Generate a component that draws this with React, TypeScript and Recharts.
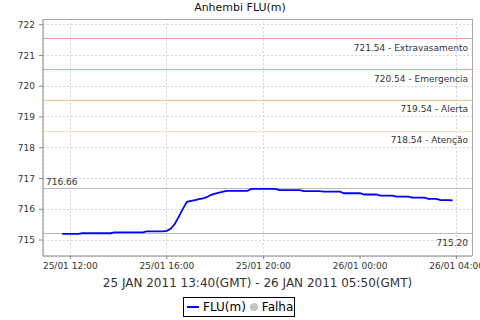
import { LineChart, Line, XAxis, YAxis, CartesianGrid, ReferenceLine } from "recharts";

const times = [
  "25/01 11:40", "25/01 11:50", "25/01 12:00", "25/01 12:10", "25/01 12:20", "25/01 12:30",
  "25/01 12:40", "25/01 12:50", "25/01 13:00", "25/01 13:10", "25/01 13:20", "25/01 13:30",
  "25/01 13:40", "25/01 13:50", "25/01 14:00", "25/01 14:10", "25/01 14:20", "25/01 14:30",
  "25/01 14:40", "25/01 14:50", "25/01 15:00", "25/01 15:10", "25/01 15:20", "25/01 15:30",
  "25/01 15:40", "25/01 15:50", "25/01 16:00", "25/01 16:10", "25/01 16:20", "25/01 16:30",
  "25/01 16:40", "25/01 16:50", "25/01 17:00", "25/01 17:10", "25/01 17:20", "25/01 17:30",
  "25/01 17:40", "25/01 17:50", "25/01 18:00", "25/01 18:10", "25/01 18:20", "25/01 18:30",
  "25/01 18:40", "25/01 18:50", "25/01 19:00", "25/01 19:10", "25/01 19:20", "25/01 19:30",
  "25/01 19:40", "25/01 19:50", "25/01 20:00", "25/01 20:10", "25/01 20:20", "25/01 20:30",
  "25/01 20:40", "25/01 20:50", "25/01 21:00", "25/01 21:10", "25/01 21:20", "25/01 21:30",
  "25/01 21:40", "25/01 21:50", "25/01 22:00", "25/01 22:10", "25/01 22:20", "25/01 22:30",
  "25/01 22:40", "25/01 22:50", "25/01 23:00", "25/01 23:10", "25/01 23:20", "25/01 23:30",
  "25/01 23:40", "25/01 23:50", "26/01 00:00", "26/01 00:10", "26/01 00:20", "26/01 00:30",
  "26/01 00:40", "26/01 00:50", "26/01 01:00", "26/01 01:10", "26/01 01:20", "26/01 01:30",
  "26/01 01:40", "26/01 01:50", "26/01 02:00", "26/01 02:10", "26/01 02:20", "26/01 02:30",
  "26/01 02:40", "26/01 02:50", "26/01 03:00", "26/01 03:10", "26/01 03:20", "26/01 03:30",
  "26/01 03:40", "26/01 03:50",
];

const flu = [
  715.2, 715.2, 715.2, 715.2, 715.2, 715.22,
  715.22, 715.22, 715.22, 715.22, 715.22, 715.22,
  715.22, 715.25, 715.25, 715.25, 715.25, 715.25,
  715.25, 715.25, 715.25, 715.28, 715.28, 715.28,
  715.28, 715.28, 715.3, 715.37, 715.53, 715.77,
  716.02, 716.24, 716.27, 716.3, 716.33, 716.35,
  716.4, 716.47, 716.51, 716.54, 716.57, 716.6,
  716.6, 716.6, 716.6, 716.6, 716.6, 716.66,
  716.66, 716.66, 716.66, 716.66, 716.66, 716.66,
  716.62, 716.62, 716.62, 716.62, 716.62, 716.62,
  716.59, 716.59, 716.59, 716.59, 716.59, 716.57,
  716.57, 716.57, 716.57, 716.57, 716.52, 716.52,
  716.52, 716.52, 716.52, 716.48, 716.48, 716.48,
  716.48, 716.44, 716.44, 716.44, 716.44, 716.41,
  716.41, 716.41, 716.41, 716.38, 716.38, 716.38,
  716.38, 716.34, 716.34, 716.34, 716.3, 716.3,
  716.3, 716.29,
];

// cotas de referencia
const markers = [
  { value: 721.54, name: "Extravasamento", color: "#f09c9c" },
  { value: 720.54, name: "Emergencia", color: "#ff88ff" },
  { value: 719.54, name: "Alerta", color: "#f5c592" },
  { value: 718.54, name: "Atenção", color: "#f8ea90" },
];
const maxLevel = 716.66;
const minLevel = 715.2;

const xTicks = [12, 16, 20, 24, 28];
const xTickLabels = ["25/01 12:00", "25/01 16:00", "25/01 20:00", "26/01 00:00", "26/01 04:00"];
const yTicks = [715, 716, 717, 718, 719, 720, 721, 722];
const xDomain = [10.87, 28.635];
const yDomain = [714.48, 722.186];

const toHours = (t: string) => {
  const [d, hm] = t.split(" ");
  const [h, m] = hm.split(":").map(Number);
  return (Number(d.slice(0, 2)) - 25) * 24 + h + m / 60;
};

const data = times.map((t, i) => ({ t: toHours(t), flu: flu[i] }));

const FONT = "DejaVu Sans";

const rightLabel = (text: string) => (props: any) => {
  const { x, y, width } = props.viewBox;
  return (
    <text x={x + width - 4} y={y + 12} textAnchor="end" fontSize={9} fill="#333" fontFamily={FONT}>
      {text}
    </text>
  );
};

const leftLabel = (text: string) => (props: any) => {
  const { x, y } = props.viewBox;
  return (
    <text x={x + 3} y={y - 4} fontSize={9} fill="#333" fontFamily={FONT}>
      {text}
    </text>
  );
};

export default function App() {
  return (
    <div style={{ position: "relative", width: 480, height: 320, background: "#fff", fontFamily: FONT }}>
      <style>{`body{margin:0}`}</style>
      <div style={{ position: "absolute", top: 1, left: 0, width: 480, textAlign: "center", fontSize: 11, lineHeight: "13px", color: "#111" }}>
        Anhembi FLU(m)
      </div>
      <LineChart width={480} height={320} data={data} margin={{ top: 19, right: 8, left: 0, bottom: 24 }}>
        <CartesianGrid stroke="#d6d6d6" strokeDasharray="2 2" shapeRendering="crispEdges" />
        <XAxis
          dataKey="t"
          type="number"
          domain={xDomain}
          allowDataOverflow
          ticks={xTicks}
          tickFormatter={(v: number) => xTickLabels[xTicks.indexOf(v)]}
          height={40}
          tickSize={3}
          tickMargin={4}
          stroke="#888"
          tick={{ fontSize: 9, fill: "#333", fontFamily: FONT }}
          label={{ value: "25 JAN 2011 13:40(GMT) - 26 JAN 2011 05:50(GMT)", position: "insideBottom", offset: 9, fontSize: 12, fill: "#333", fontFamily: FONT }}
        />
        <YAxis
          type="number"
          domain={yDomain}
          allowDataOverflow
          ticks={yTicks}
          width={43}
          tickSize={4}
          tickMargin={4}
          stroke="#888"
          tick={{ fontSize: 9, fill: "#333", fontFamily: FONT }}
        />
        <ReferenceLine y={yDomain[1]} stroke="#aaa" shapeRendering="crispEdges" />
        <ReferenceLine x={xDomain[1]} stroke="#aaa" shapeRendering="crispEdges" />
        {markers.map((m) => (
          <ReferenceLine
            key={m.name}
            y={m.value}
            stroke={m.color}
            strokeWidth={1}
            shapeRendering="crispEdges"
            label={rightLabel(`${m.value.toFixed(2)} - ${m.name}`)}
          />
        ))}
        <ReferenceLine y={maxLevel} stroke="#bbb" shapeRendering="crispEdges" label={leftLabel(maxLevel.toFixed(2))} />
        <ReferenceLine y={minLevel} stroke="#bbb" shapeRendering="crispEdges" label={rightLabel(minLevel.toFixed(2))} />
        <Line type="linear" dataKey="flu" stroke="#0000ff" strokeWidth={1.8} dot={false} isAnimationActive={false} />
      </LineChart>
      <div
        style={{
          position: "absolute",
          left: 183,
          top: 297,
          width: 110,
          height: 18,
          border: "1px solid #000",
          background: "#fff",
          fontSize: 12,
          lineHeight: "18px",
          display: "flex",
          alignItems: "center",
          color: "#000",
        }}
      >
        <span style={{ display: "inline-block", width: 12, height: 2, background: "#0000ff", marginLeft: 3, marginRight: 4 }} />
        <span>FLU(m)</span>
        <span style={{ display: "inline-block", width: 8, height: 8, borderRadius: 4, background: "#c4c4c4", marginLeft: 4, marginRight: 4 }} />
        <span>Falha</span>
      </div>
    </div>
  );
}
